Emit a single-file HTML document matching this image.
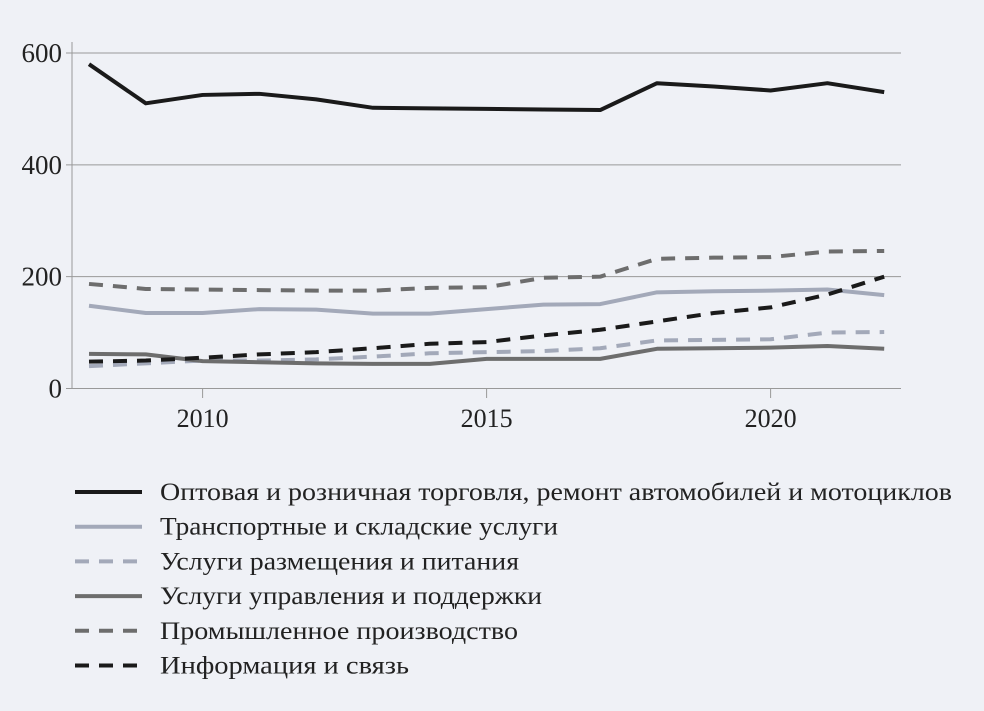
<!DOCTYPE html>
<html><head><meta charset="utf-8"><style>
body{margin:0;background:#eff1f6;}
svg{display:block;font-family:"Liberation Serif",serif;}
</style></head><body>
<svg width="984" height="711">
<rect width="984" height="711" fill="#eff1f6"/>
<g id="grid"></g><g id="series"></g><g id="legend"></g>
</svg>
<script>
const years=[2008,2009,2010,2011,2012,2013,2014,2015,2016,2017,2018,2019,2020,2021,2022];
const trade=[580,510,525,527,517,502,501,500,499,498,546,540,533,546,530];
const transport=[148,135,135,142,141,134,134,142,150,151,172,174,175,177,167];
const accommodation=[40,45,50,50,52,57,63,65,67,72,86,87,88,100,101];
const admin=[62,61,49,47,45,44,44,53,53,53,71,72,73,76,71];
const industry=[187,178,177,176,175,175,180,181,198,200,232,234,235,245,246];
const ict=[48,50,55,61,65,72,80,83,95,105,120,135,145,168,200];
const yTicks=[0,200,400,600];
const xTicks=[2010,2015,2020];
const names=["Оптовая и розничная торговля, ремонт автомобилей и мотоциклов","Транспортные и складские услуги","Услуги размещения и питания","Услуги управления и поддержки","Промышленное производство","Информация и связь"];
const NS="http://www.w3.org/2000/svg";
const X=v=>89+(v-2008)*56.8;
const Y=v=>388.5-v*(335.5/600);
function mk(t,a,p){const e=document.createElementNS(NS,t);for(const k in a)e.setAttribute(k,a[k]);p.appendChild(e);return e;}
const g=document.getElementById('grid');
const ax=mk('line',{x1:72,x2:72,y1:42,y2:389,stroke:'#999',"stroke-width":1},g);


yTicks.forEach(t=>{
 const l=mk('line',{x1:66,x2:901,y1:Y(t),y2:Y(t),stroke:'#999',"stroke-width":1},g);
 
 
 const tx=mk('text',{x:62,y:Y(t)+9,"text-anchor":"end","font-size":27,fill:'#222'},g);
 tx.textContent=t;
 
 
});
xTicks.forEach(t=>{
 const l=mk('line',{x1:X(t),x2:X(t),y1:389,y2:398,stroke:'#999'},g);
 
 
 const tx=mk('text',{x:X(t),y:427,"text-anchor":"middle","font-size":26,fill:'#222'},g);
 tx.textContent=t;
 
 
});
const styles=[
 {d:trade,c:'#1a1a1a',dash:''},
 {d:transport,c:'#a3a9b9',dash:''},
 {d:accommodation,c:'#a3a9b9',dash:'14,10'},
 {d:admin,c:'#6d6d6d',dash:''},
 {d:industry,c:'#6d6d6d',dash:'14,10'},
 {d:ict,c:'#1a1a1a',dash:'14,10'}];
const keys=['trade','transport','accommodation','admin','industry','ict'];
const widths=[792,398,359,382,358,249];
const s=document.getElementById('series');
styles.forEach((st,i)=>{
 const p=mk('polyline',{points:years.map((y,j)=>X(y)+','+Y(st.d[j])).join(' '),fill:'none',stroke:st.c,"stroke-width":4,"stroke-dasharray":st.dash,"stroke-linejoin":"round"},s);
 
 
});
const lg=document.getElementById('legend');
styles.forEach((st,i)=>{
 const y=492+i*34.7;
 const l=mk('line',{x1:75,x2:142,y1:y,y2:y,stroke:st.c,"stroke-width":4,"stroke-dasharray":st.dash},lg);
 
 
 const t=mk('text',{x:160,y:y+8,"font-size":25,fill:'#222',textLength:widths[i],lengthAdjust:'spacingAndGlyphs'},lg);
 t.textContent=names[i];
 
 
});
</script>
</body></html>
